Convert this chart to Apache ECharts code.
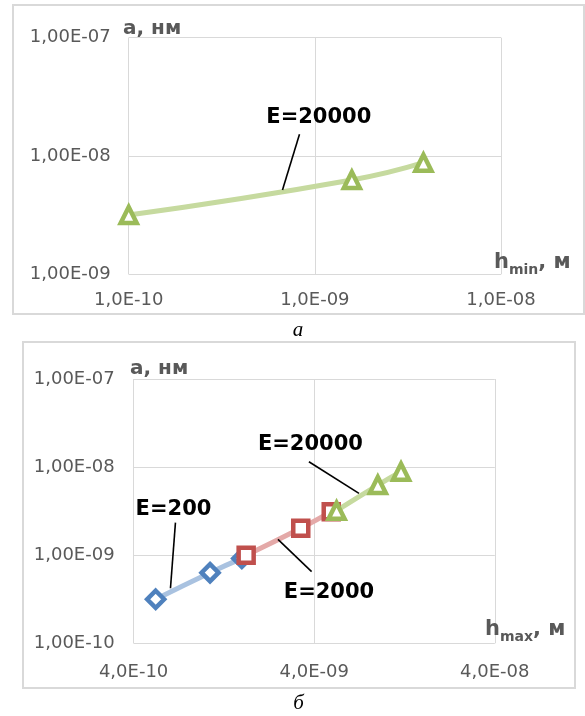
<!DOCTYPE html>
<html><head><meta charset="utf-8">
<script src="https://cdn.jsdelivr.net/npm/echarts@6/dist/echarts.min.js"></script>
<style>html,body{margin:0;padding:0;background:#fff}#c{width:585px;height:716px}</style>
</head><body><div id="c"></div><script>
// ---- Chart а (top) ----
const hMinA = [1.0e-10, 1.58e-9, 3.83e-9];
const aA = [3.17e-9, 6.27e-9, 8.78e-9];
// ---- Chart б (bottom) ----
const hMax200 = [5.3e-10, 1.06e-9, 1.59e-9];
const a200 = [3.16e-10, 6.33e-10, 9.2e-10];
const hMax2000 = [1.68e-9, 3.37e-9, 4.97e-9];
const a2000 = [1.0e-9, 2.02e-9, 3.12e-9];
const hMax20000 = [5.32e-9, 9.0e-9, 1.21e-8];
const a20000 = [3.2e-9, 6.26e-9, 8.87e-9];
// ---- tick labels ----
const xTicksA = ['1,0E-10', '1,0E-09', '1,0E-08'];
const yTicksA = ['1,00E-09', '1,00E-08', '1,00E-07'];
const xTicksB = ['4,0E-10', '4,0E-09', '4,0E-08'];
const yTicksB = ['1,00E-10', '1,00E-09', '1,00E-08', '1,00E-07'];
// ---- annotations (data coordinates) ----
const annA = [{ text: 'E=20000', at: [1.05e-9, 2.1e-8], from: [8.27e-10, 1.53e-8], to: [6.7e-10, 5.16e-9] }];
const annB = [
  { text: 'E=200', at: [6.65e-10, 3.26e-9], from: [6.82e-10, 2.34e-9], to: [6.4e-10, 4.21e-10] },
  { text: 'E=2000', at: [4.83e-9, 3.79e-10], from: [2.52e-9, 1.51e-9], to: [3.87e-9, 6.5e-10] },
  { text: 'E=20000', at: [3.81e-9, 1.81e-8], from: [3.74e-9, 1.15e-8], to: [7.08e-9, 5.04e-9] }
];

const num = s => Number(s.replace(',', '.'));
const xB0 = num(xTicksB[0]);
const xb = v => Math.log10(v / xB0);

const GRID = '#d9d9d9';
const TXT = '#595959';
const FONT = 'DejaVu Sans';
const tickStyle = { color: TXT, fontFamily: FONT, fontSize: 18 };

function axisCommon(labels, margin) {
  return {
    axisLine: { show: false }, axisTick: { show: false },
    splitLine: { show: true, lineStyle: { color: GRID, width: 1 } },
    axisLabel: Object.assign({ margin: margin, formatter: (v, i) => labels[i] !== undefined ? labels[i] : '' }, tickStyle)
  };
}

function lineSeries(name, xi, yi, data, lineColor, markColor, symbol, size) {
  return {
    name, type: 'line', xAxisIndex: xi, yAxisIndex: yi, data,
    smooth: true, symbol, symbolSize: size, showSymbol: true,
    lineStyle: { color: lineColor, width: 5 },
    itemStyle: { color: '#fff', borderColor: markColor, borderWidth: 4.5 },
    z: 3
  };
}

const chart = echarts.init(document.getElementById('c'), null, { renderer: 'canvas' });
const option = {
  animation: false,
  backgroundColor: '#fff',
  grid: [
    { left: 128.7, top: 37.7, width: 372.3, height: 236.6 },
    { left: 133.6, top: 379, width: 361.2, height: 264.3 }
  ],
  xAxis: [
    Object.assign({ type: 'log', logBase: 10, gridIndex: 0, min: num(xTicksA[0]), max: num(xTicksA[xTicksA.length - 1]) }, axisCommon(xTicksA, 17)),
    Object.assign({ type: 'value', gridIndex: 1, min: 0, max: xb(num(xTicksB[xTicksB.length - 1])), interval: 1 }, axisCommon(xTicksB, 20))
  ],
  yAxis: [
    Object.assign({ type: 'log', logBase: 10, gridIndex: 0, min: num(yTicksA[0]), max: num(yTicksA[yTicksA.length - 1]) }, axisCommon(yTicksA, 18)),
    Object.assign({ type: 'log', logBase: 10, gridIndex: 1, min: num(yTicksB[0]), max: num(yTicksB[yTicksB.length - 1]) }, axisCommon(yTicksB, 19))
  ],
  series: [
    lineSeries('E=20000 а', 0, 0, hMinA.map((h, i) => [h, aA[i]]), '#c6da9f', '#9bbb59', 'triangle', 16),
    lineSeries('E=200', 1, 1, hMax200.map((h, i) => [xb(h), a200[i]]), '#a9c2e0', '#4f81bd', 'diamond', 17),
    lineSeries('E=2000', 1, 1, hMax2000.map((h, i) => [xb(h), a2000[i]]), '#e4a9a8', '#c0504d', 'rect', 15),
    lineSeries('E=20000 б', 1, 1, hMax20000.map((h, i) => [xb(h), a20000[i]]), '#c6da9f', '#9bbb59', 'triangle', 16)
  ]
};
chart.setOption(option);

const graphics = [
  { type: 'rect', shape: { x: 13, y: 5, width: 571, height: 309 }, style: { fill: 'none', stroke: GRID, lineWidth: 2 }, z: 0 },
  { type: 'rect', shape: { x: 23, y: 342, width: 552, height: 346 }, style: { fill: 'none', stroke: GRID, lineWidth: 2 }, z: 0 },
  { type: 'text', x: 123, y: 29, style: { text: 'а, нм', fill: TXT, font: 'bold 20px "DejaVu Sans"', textVerticalAlign: 'middle' } },
  { type: 'text', x: 130, y: 369, style: { text: 'а, нм', fill: TXT, font: 'bold 20px "DejaVu Sans"', textVerticalAlign: 'middle' } },
  { type: 'text', x: 494, y: 263, style: { text: '{h|h}{s|min}{h|, м}', fill: TXT, textVerticalAlign: 'middle',
      rich: { h: { fontFamily: FONT, fontWeight: 'bold', fontSize: 21, fill: TXT, verticalAlign: 'bottom' }, s: { fontFamily: FONT, fontWeight: 'bold', fontSize: 14, fill: TXT, verticalAlign: 'bottom', padding: [0, 0, -4, 0] } } } },
  { type: 'text', x: 485, y: 630, style: { text: '{h|h}{s|max}{h|, м}', fill: TXT, textVerticalAlign: 'middle',
      rich: { h: { fontFamily: FONT, fontWeight: 'bold', fontSize: 21, fill: TXT, verticalAlign: 'bottom' }, s: { fontFamily: FONT, fontWeight: 'bold', fontSize: 14, fill: TXT, verticalAlign: 'bottom', padding: [0, 0, -4, 0] } } } },
  { type: 'text', x: 298, y: 330, style: { text: 'а', fill: '#000', font: 'italic 21px "Liberation Serif"', textAlign: 'center', textVerticalAlign: 'middle' } },
  { type: 'text', x: 298.5, y: 703, style: { text: 'б', fill: '#000', font: 'italic 21px "Liberation Serif"', textAlign: 'center', textVerticalAlign: 'middle' } }
];
function addAnn(list, gi, fx) {
  list.forEach(a => {
    const p = chart.convertToPixel({ gridIndex: gi }, [fx(a.at[0]), a.at[1]]);
    const f = chart.convertToPixel({ gridIndex: gi }, [fx(a.from[0]), a.from[1]]);
    const t = chart.convertToPixel({ gridIndex: gi }, [fx(a.to[0]), a.to[1]]);
    graphics.push({ type: 'line', shape: { x1: f[0], y1: f[1], x2: t[0], y2: t[1] }, style: { stroke: '#000', lineWidth: 1.6 }, z: 10 });
    graphics.push({ type: 'text', x: p[0], y: p[1], z: 10, style: { text: a.text, fill: '#000', font: 'bold 21px "DejaVu Sans"', textAlign: 'center', textVerticalAlign: 'middle' } });
  });
}
addAnn(annA, 0, v => v);
addAnn(annB, 1, xb);
chart.setOption({ graphic: graphics });
</script></body></html>
